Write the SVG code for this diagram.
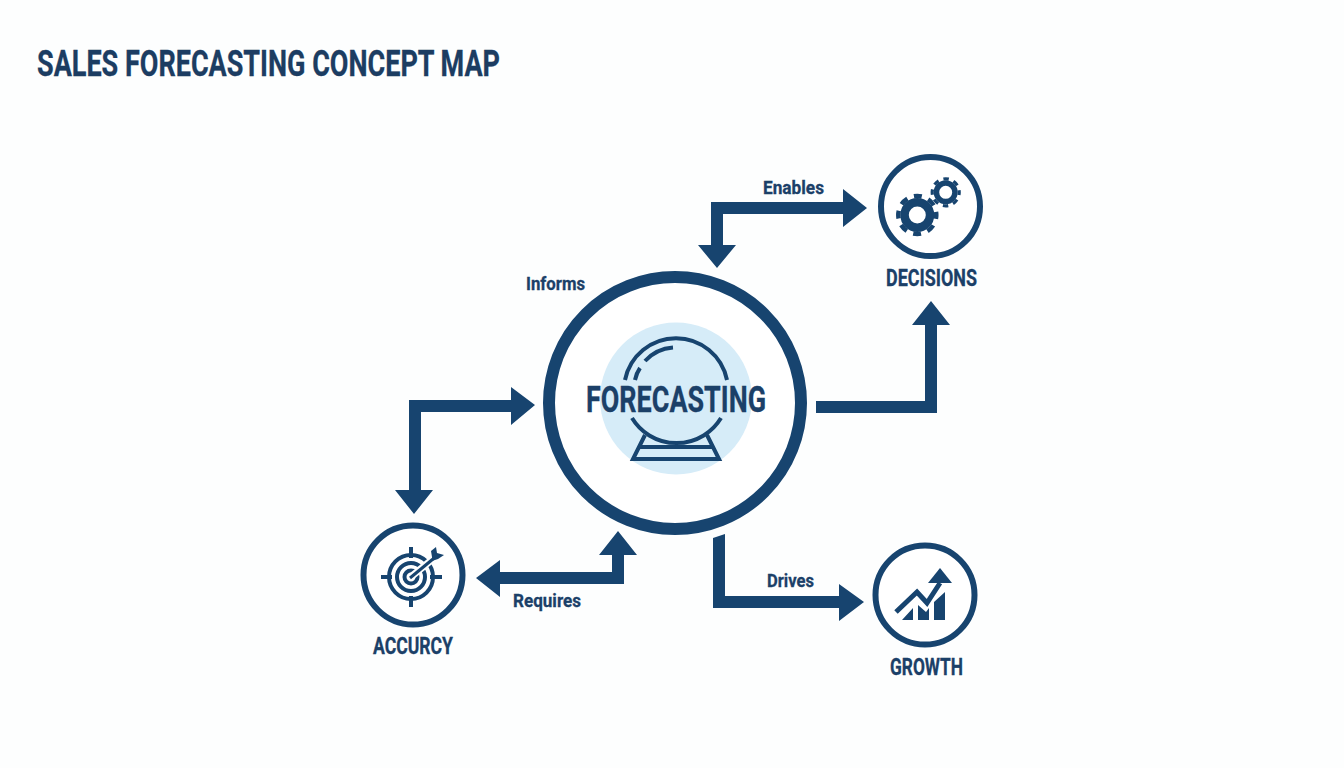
<svg xmlns="http://www.w3.org/2000/svg" width="1344" height="768" viewBox="0 0 1344 768">
<style>
text{font-family:Roboto,"Liberation Sans",sans-serif;font-weight:700;fill:#1b4068;stroke:#1b4068;stroke-width:.3}
.a{fill:#17446f}
.r{fill:#fff;stroke:#17446f;stroke-width:6}
.l{fill:none;stroke:#17446f;stroke-width:4}
.g{fill:none;stroke:#17446f}
.i{fill:#17446f}
.t{font-size:37px;fill:#1c3d62;stroke:#1c3d62}
.n{font-size:23px}
.c{font-size:18.500px}
</style>
<rect width="1344" height="768" fill="#fdfefe"/>
<text class="t" x="37" y="76" textLength="463" lengthAdjust="spacingAndGlyphs">SALES FORECASTING CONCEPT MAP</text>
<g id="connectors">
<path class="a" d="M843 189L867 208L843 227V214H723V245H736L717 268L698 245H711V202H843Z"/>
<path class="a" d="M816 413V401H925V325H912L931 301L950 325H937V413Z"/>
<path class="a" d="M511 387L535 405L511 425V412H421V490H433L414 514L395 490H409V400H511Z"/>
<path class="a" d="M476 578L500 560V572H612V555H599L618 531L637 555H624V584H500V597Z"/>
<path class="a" d="M713 538L725 534V596H839V584L864 602L839 621V608H713Z"/>
<text class="c" x="763" y="194" textLength="61" lengthAdjust="spacingAndGlyphs">Enables</text>
<text class="c" x="526" y="290" textLength="59" lengthAdjust="spacingAndGlyphs">Informs</text>
<text class="c" x="513" y="607" textLength="68" lengthAdjust="spacingAndGlyphs">Requires</text>
<text class="c" x="767" y="587" textLength="47" lengthAdjust="spacingAndGlyphs">Drives</text>
</g>
<g id="forecasting">
<circle cx="675" cy="403" r="126" fill="#fff" stroke="#17446f" stroke-width="12"/>
<circle cx="676" cy="398.500" r="76" fill="#d6ecf8"/>
<path class="l" d="M625 380A52 52 0 0 1 727 380"/>
<path class="l" d="M632 418A52 52 0 0 0 721 418"/>
<path class="l" d="M645 361A42 42 0 0 1 673 347.500"/>
<path class="l" d="M635 380Q636.500 373 640 368"/>
<path class="l" d="M645 435L633 459H719L707 435M639 447H713"/>
<text x="586" y="412" font-size="37" textLength="180" lengthAdjust="spacingAndGlyphs">FORECASTING</text>
</g>
<g id="decisions">
<circle class="r" cx="930.500" cy="206.500" r="49.500"/>
<circle class="g" cx="917.300" cy="215" r="12.750" stroke-width="8.500"/>
<circle class="g" cx="917.300" cy="215" r="19" stroke-width="4.500" stroke-dasharray="8 6.920" stroke-dashoffset="4"/>
<circle class="g" cx="945.700" cy="192.300" r="9.250" stroke-width="5.500"/>
<circle class="g" cx="945.700" cy="192.300" r="13.500" stroke-width="3.200" stroke-dasharray="5.500 5.100" stroke-dashoffset="2.750"/>
<text class="n" x="886" y="286" textLength="91" lengthAdjust="spacingAndGlyphs">DECISIONS</text>
</g>
<g id="accuracy">
<circle class="r" cx="413" cy="575" r="49.500"/>
<circle class="l" cx="411" cy="577" r="22"/>
<circle class="l" cx="411" cy="577" r="14"/>
<circle class="l" cx="411" cy="577" r="6.500"/>
<path class="l" stroke-width="3" d="M381 577H392M430 577H442M411 547V558M411 596V607"/>
<path d="M412 576L434 558" fill="none" stroke="#fff" stroke-width="7"/>
<path d="M410 578L433 559" fill="none" stroke="#17446f" stroke-width="3"/>
<path class="i" d="M431 551L436 547L437 553L444 555L438 559L432 561L432 557Z"/>
<text class="n" x="373" y="654" textLength="80" lengthAdjust="spacingAndGlyphs">ACCURCY</text>
</g>
<g id="growth">
<circle class="r" cx="925" cy="595" r="49.500"/>
<path d="M896 612L917 592L927 603L940 583" fill="none" stroke="#17446f" stroke-width="5"/>
<path class="i" d="M940 568L952 583L928 583Z"/>
<path class="i" d="M902 620L913 608V620ZM918 620V605L926 612L929 608V620ZM934 620V602L945 592V620Z"/>
<text class="n" x="890" y="675" textLength="73" lengthAdjust="spacingAndGlyphs">GROWTH</text>
</g>
</svg>
